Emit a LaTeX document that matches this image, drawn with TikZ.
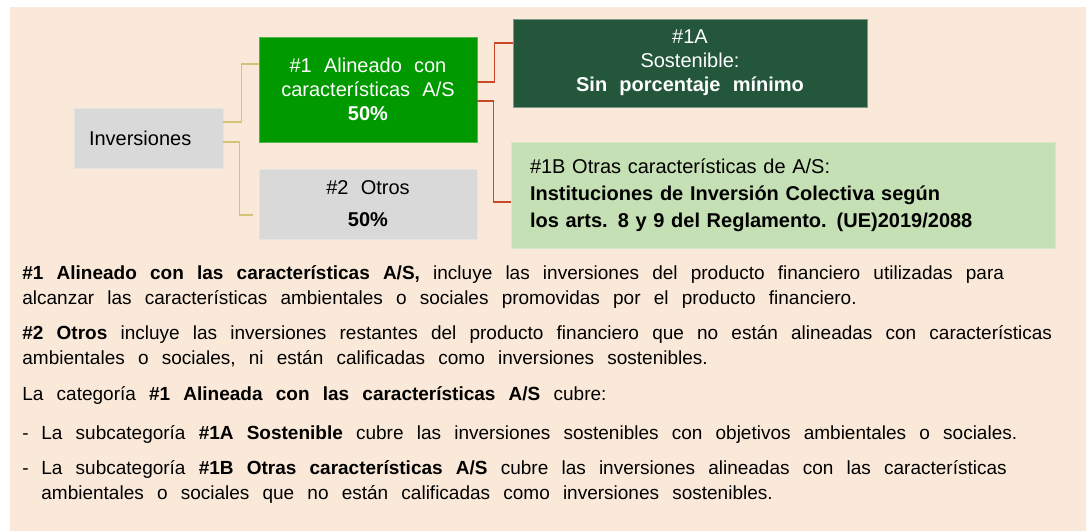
\documentclass[tikz,border=0pt]{standalone}
\usepackage{fontspec}
\setmainfont{Liberation Sans}[WordSpace=2.2]
\newfontfamily\bodyfont{Liberation Sans}[WordSpace=2.5]
\usetikzlibrary{positioning, calc}

\definecolor{panelbg}{RGB}{250,233,217}
\definecolor{alignedgreen}{RGB}{0,153,0}
\definecolor{sustgreen}{RGB}{35,86,58}
\definecolor{othergreen}{RGB}{197,224,180}
\definecolor{boxgrey}{RGB}{217,217,217}
\definecolor{linkyellow}{RGB}{212,196,122}
\definecolor{linkred}{RGB}{200,72,40}

\tikzset{
  catbox/.style={rectangle, inner sep=0pt, align=center, font=\fontsize{10}{12}\selectfont},
  greybox/.style={catbox, fill=boxgrey, draw=boxgrey!70!white, line width=0.3pt},
  linkA/.style={draw=linkyellow, line width=0.8pt},
  linkB/.style={draw=linkred, line width=0.8pt},
  bodytext/.style={anchor=base west, inner sep=0pt, align=left, font=\bodyfont\fontsize{9.5}{12.5}\selectfont}
}

\begin{document}
\begin{tikzpicture}[x=0.5pt, y=-0.5pt]
  \useasboundingbox (0,0) rectangle (1091,531);
  \fill[panelbg] (10,7) rectangle (1086,531);

  % category boxes
  \node[greybox, minimum width=74.5pt, minimum height=30pt, text width=59.5pt, align=left, inner xsep=7.5pt] (inv) at (148.5,138) {Inversiones};
  \node[catbox, fill=alignedgreen, draw=alignedgreen!70!white, line width=0.3pt, text=white, minimum width=109pt, minimum height=52.5pt] (aligned) at (368,89.5) {\#1 Alineado con\\características A/S\\\textbf{50\%}};
  \node[greybox, minimum width=109pt, minimum height=35pt] (others) at (368,204) {\#2 Otros\\[4pt]\textbf{50\%}};
  \node[catbox, fill=sustgreen, draw=sustgreen!60!white, line width=0.3pt, text=white, minimum width=177pt, minimum height=44pt] (sust) at (690,63) {\#1A\\Sostenible:\\\textbf{Sin porcentaje mínimo}};
  \node[catbox, fill=othergreen, draw=othergreen!70!white, line width=0.3pt, minimum width=272pt, minimum height=53pt, text width=253pt, inner xsep=9.5pt, align=left, font=\fontsize{10}{13.5}\selectfont] (otherchar) at (783,195) {\#1B Otras características de A/S:\\\textbf{Instituciones de Inversión Colectiva según}\\\textbf{los arts. 8 y 9 del Reglamento. (UE)2019/2088}};

  % connectors
  \draw[linkA] ([yshift=8pt]inv.east) -- ++(18,0) |- ([yshift=12.75pt]aligned.west);
  \draw[linkA, shorten >=3pt] ([yshift=-2pt]inv.east) -- ++(16,0) |- ([yshift=-5.5pt]others.west);
  \draw[linkB] ([yshift=3.75pt]aligned.east) -- ++(17,0) |- ([yshift=10pt]sust.west);
  \draw[linkB] ([yshift=-5.75pt]aligned.east) -- ++(16,0) |- ([yshift=-3.5pt]otherchar.west);

  % explanatory text (base = last line)
  \node[bodytext] (def1) at (22,304) {\textbf{\#1 Alineado con las características A/S,} incluye las inversiones del producto financiero utilizadas para\\alcanzar las características ambientales o sociales promovidas por el producto financiero.};
  \node[bodytext] (def2) at (22,364) {\textbf{\#2 Otros} incluye las inversiones restantes del producto financiero que no están alineadas con características\\ambientales o sociales, ni están calificadas como inversiones sostenibles.};
  \node[bodytext] (cat) at (22,400) {La categoría \textbf{\#1 Alineada con las características A/S} cubre:};
  \node[bodytext] (sub1) at (22,439) {\makebox[9.5pt][l]{-}La subcategoría \textbf{\#1A Sostenible} cubre las inversiones sostenibles con objetivos ambientales o sociales.};
  \node[bodytext] (sub2) at (22,499) {\makebox[9.5pt][l]{-}La subcategoría \textbf{\#1B Otras características A/S} cubre las inversiones alineadas con las características\\\hspace*{9.5pt}ambientales o sociales que no están calificadas como inversiones sostenibles.};
\end{tikzpicture}
\end{document}
